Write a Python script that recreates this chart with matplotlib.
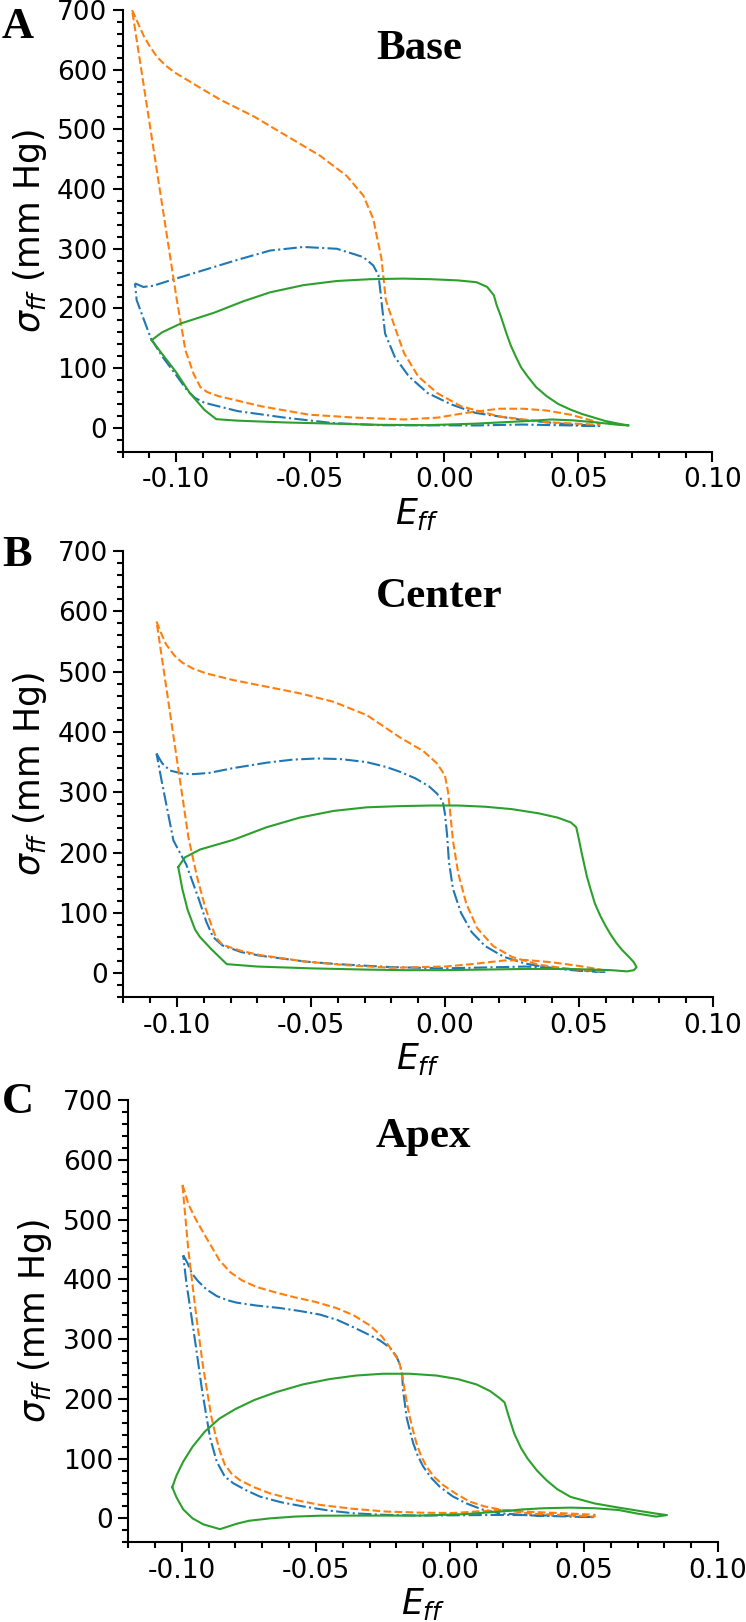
import matplotlib
matplotlib.use("Agg")
import matplotlib.pyplot as plt
from matplotlib.ticker import MultipleLocator

# ---- data, strain E_ff vs stress sigma_ff ----
# Base
base_dash_E = [-0.1165, -0.1150, -0.1135, -0.1120, -0.1100, -0.1073, -0.1040, -0.1005, -0.0960, -0.0905,
               -0.0837, -0.0712, -0.0588, -0.0464, -0.0364, -0.0302, -0.0265, -0.0250, -0.0235, -0.0218,
               -0.0185, -0.0150, -0.0097, -0.0026, 0.0063, 0.0205, 0.0382, 0.0560, 0.0580, 0.0578,
               0.0560, 0.0471, 0.0382, 0.0294, 0.0205, 0.0080, -0.0026, -0.0150, -0.0327, -0.0505,
               -0.0682, -0.0842, -0.0885, -0.0910, -0.0935, -0.0966, -0.0999, -0.1165]
base_dash_S = [700, 685, 670, 655, 640, 622, 607, 595, 583, 568,
               550, 522, 489, 456, 422, 389, 350, 317, 285, 214,
               169, 125, 86, 58, 36, 19, 9.4, 5.5, 5, 7,
               11, 22, 29, 32, 32, 25, 17, 14, 17, 22,
               36, 53, 60, 68, 90, 130, 217, 700]
base_dot_E = [-0.1154, -0.1123, -0.1086, -0.1023, -0.0899, -0.0775, -0.0650, -0.0526, -0.0401, -0.0302,
              -0.0265, -0.0246, -0.0240, -0.0235, -0.0221, -0.0185, -0.0132, -0.0061, 0.0027, 0.0116,
              0.0294, 0.0471, 0.0578, 0.0470, 0.0290, 0.0116, -0.0239, -0.0416, -0.0594, -0.0771,
              -0.0895, -0.0930, -0.0960, -0.1000, -0.1050, -0.1095, -0.1120, -0.1148, -0.1154]
base_dot_S = [242, 236, 238, 247, 264, 281, 297, 303, 300, 286,
              272, 256, 235, 214, 158, 119, 86, 58, 39, 25,
              13, 5.5, 3, 4, 5.5, 4, 4.4, 8, 17, 28,
              42, 50, 63, 88, 118, 150, 180, 214, 242]
base_solid_E = [-0.1092, -0.1053, -0.0982, -0.0858, -0.0750, -0.0650, -0.0526, -0.0401, -0.0277, -0.0153,
                -0.0050, 0.0050, 0.0120, 0.0160, 0.0185, 0.0195, 0.0210, 0.0232, 0.0248, 0.0267,
                0.0287, 0.0311, 0.0343, 0.0382, 0.0425, 0.0471, 0.0515, 0.0560, 0.0600, 0.0649,
                0.0688, 0.0650, 0.0560, 0.0480, 0.0400, 0.0294, 0.0116, -0.0061, -0.0239, -0.0416,
                -0.0594, -0.0771, -0.0851, -0.0895, -0.0949, -0.1002, -0.1055, -0.1092]
base_solid_S = [147, 160, 175, 193, 212, 227, 239, 246, 249, 250,
                249, 247, 244, 236, 222, 206, 188, 158, 138, 119,
                101, 86, 68, 53, 40, 30.5, 23, 17, 11.5, 7,
                4, 5, 9.4, 12.5, 14, 11, 7, 4.5, 5, 7,
                9, 12, 14.5, 30, 58, 94, 125, 147]

# Center
center_dash_E = [-0.1076, -0.1060, -0.1040, -0.1010, -0.0980, -0.0940, -0.0890, -0.0790, -0.0665, -0.0541,
                 -0.0416, -0.0292, -0.0168, -0.0080, -0.0030, 0.0000, 0.0012, 0.0020, 0.0030, 0.0050,
                 0.0080, 0.0120, 0.0180, 0.0250, 0.0350, 0.0450, 0.0550, 0.0600, 0.0580, 0.0500,
                 0.0400, 0.0300, 0.0220, 0.0100, 0.0000, -0.0200, -0.0360, -0.0516, -0.0690, -0.0760,
                 -0.0830, -0.0855, -0.0870, -0.0895, -0.0925, -0.0957, -0.1076]
center_dash_S = [583, 565, 545, 527, 515, 505, 497, 486, 475, 464,
                 450, 428, 391, 368, 348, 328, 300, 265, 220, 165,
                 115, 75, 45, 27, 14, 8, 4, 3, 6, 12,
                 18, 22, 21, 15, 11, 9, 13, 19, 30, 37,
                 47, 60, 78, 110, 160, 225, 583]
center_dot_E = [-0.1076, -0.1055, -0.1026, -0.0980, -0.0939, -0.0880, -0.0790, -0.0665, -0.0570, -0.0479,
                -0.0390, -0.0292, -0.0220, -0.0168, -0.0110, -0.0060, -0.0030, -0.0008, 0.0000, 0.0008,
                0.0015, 0.0030, 0.0060, 0.0100, 0.0150, 0.0220, 0.0300, 0.0400, 0.0500, 0.0600,
                0.0500, 0.0400, 0.0300, 0.0200, 0.0000, -0.0200, -0.0400, -0.0516, -0.0690, -0.0760,
                -0.0830, -0.0865, -0.0890, -0.0920, -0.0965, -0.1013, -0.1057, -0.1076]
center_dot_S = [364, 348, 336, 331, 330, 332, 340, 349, 354, 356,
                355, 350, 342, 334, 323, 310, 298, 285, 265, 230,
                185, 140, 100, 68, 45, 27, 16, 8, 4, 2,
                5, 9, 11, 10, 8, 10, 15, 19, 29, 35,
                46, 60, 85, 125, 180, 220, 319, 364]
center_solid_E = [-0.0995, -0.0970, -0.0914, -0.0790, -0.0665, -0.0541, -0.0416, -0.0292, -0.0168, -0.0050,
                  0.0050, 0.0150, 0.0250, 0.0350, 0.0420, 0.0470, 0.0490, 0.0500, 0.0510, 0.0530,
                  0.0545, 0.0560, 0.0580, 0.0600, 0.0620, 0.0640, 0.0660, 0.0680, 0.0695, 0.0705,
                  0.0715, 0.0705, 0.0680, 0.0620, 0.0550, 0.0450, 0.0300, 0.0150, 0.0000, -0.0150,
                  -0.0300, -0.0500, -0.0700, -0.0814, -0.0872, -0.0914, -0.0932, -0.0960, -0.0980, -0.0995]
center_solid_S = [176, 192, 205, 221, 242, 258, 269, 275, 277, 278,
                  278, 276, 272, 265, 258, 250, 242, 222, 200, 160,
                  137, 115, 95, 78, 63, 50, 39, 30, 23, 18,
                  10, 5, 3, 5, 6, 7, 7, 6, 5, 5,
                  6, 8, 11, 15, 40, 60, 72, 105, 140, 176]

# Apex
apex_dash_E = [-0.0998, -0.0975, -0.0950, -0.0920, -0.0890, -0.0860, -0.0820, -0.0775, -0.0720, -0.0650,
               -0.0580, -0.0500, -0.0424, -0.0360, -0.0299, -0.0255, -0.0225, -0.0200, -0.0187, -0.0178,
               -0.0169, -0.0160, -0.0150, -0.0138, -0.0125, -0.0108, -0.0088, -0.0060, -0.0026, 0.0020,
               0.0074, 0.0130, 0.0186, 0.0300, 0.0450, 0.0540, 0.0540, 0.0450, 0.0300, 0.0186,
               0.0012, -0.0100, -0.0237, -0.0360, -0.0485, -0.0580, -0.0672, -0.0730, -0.0784, -0.0815,
               -0.0840, -0.0858, -0.0875, -0.0890, -0.0921, -0.0946, -0.0976, -0.0998]
apex_dash_S = [558, 525, 502, 478, 455, 432, 412, 398, 387, 378,
               370, 362, 352, 340, 323, 305, 287, 270, 258, 240,
               215, 192, 170, 148, 126, 105, 87, 70, 56, 42,
               28, 20, 15, 8, 5, 3, 6, 8, 11, 14,
               9, 9.5, 11.4, 16, 22.6, 31, 42, 52, 64, 75,
               90, 112, 140, 170, 254, 337, 449, 558]
apex_dot_E = [-0.0995, -0.0980, -0.0963, -0.0940, -0.0908, -0.0870, -0.0830, -0.0796, -0.0720, -0.0635,
              -0.0560, -0.0485, -0.0420, -0.0361, -0.0310, -0.0262, -0.0225, -0.0199, -0.0185, -0.0178,
              -0.0175, -0.0168, -0.0162, -0.0150, -0.0137, -0.0120, -0.0100, -0.0070, -0.0038, 0.0010,
              0.0062, 0.0120, 0.0186, 0.0300, 0.0450, 0.0540, 0.0450, 0.0300, 0.0186, -0.0112,
              -0.0250, -0.0361, -0.0450, -0.0547, -0.0630, -0.0709, -0.0760, -0.0809, -0.0840, -0.0870,
              -0.0895, -0.0925, -0.0946, -0.0965, -0.0983, -0.0995]
apex_dot_S = [440, 428, 410, 397, 383, 372, 365, 361, 356, 352,
              347, 341, 332, 320, 309, 298, 286, 271, 255, 240,
              215, 192, 170, 148, 126, 105, 87, 68, 53, 37,
              25, 15, 8.6, 5, 3, 2, 4, 5.5, 5.8, 4.7,
              6, 8.6, 13, 20, 27, 36.5, 47, 59, 70, 95,
              135, 215, 282, 340, 393, 440]
apex_solid_E = [-0.1036, -0.1020, -0.0995, -0.0960, -0.0915, -0.0860, -0.0800, -0.0730, -0.0650, -0.0550,
                -0.0450, -0.0350, -0.0250, -0.0150, -0.0050, 0.0030, 0.0100, 0.0150, 0.0186, 0.0204,
                0.0220, 0.0240, 0.0265, 0.0290, 0.0325, 0.0360, 0.0400, 0.0450, 0.0540, 0.0630,
                0.0700, 0.0770, 0.0810, 0.0770, 0.0700, 0.0630, 0.0540, 0.0450, 0.0350, 0.0270,
                0.0186, 0.0050, -0.0112, -0.0300, -0.0485, -0.0580, -0.0672, -0.0750, -0.0796, -0.0830,
                -0.0858, -0.0920, -0.0960, -0.0995, -0.1020, -0.1036]
apex_solid_S = [52, 72, 95, 120, 145, 167, 183, 198, 211, 224,
                233, 239, 242, 242, 239, 233, 224, 213, 201, 194,
                170, 142, 118, 100, 80, 64, 49, 36, 25, 18,
                13, 8, 5.5, 3, 8, 14, 17, 18, 17, 15,
                11.4, 7, 4.7, 4.7, 4.5, 3, 0, -4, -9, -14,
                -18, -10, 0, 15, 35, 52]

panel_titles = ["Base", "Center", "Apex"]
panel_letters = ["A", "B", "C"]
x_ticks = [-0.10, -0.05, 0.00, 0.05, 0.10]
y_ticks = [0, 100, 200, 300, 400, 500, 600, 700]

panels = [
    (base_dot_E, base_dot_S, base_dash_E, base_dash_S, base_solid_E, base_solid_S),
    (center_dot_E, center_dot_S, center_dash_E, center_dash_S, center_solid_E, center_solid_S),
    (apex_dot_E, apex_dot_S, apex_dash_E, apex_dash_S, apex_solid_E, apex_solid_S),
]

W, H = 746, 1622
fig = plt.figure(figsize=(W / 100, H / 100), dpi=100)

# axes boxes in pixels: left, top, right, bottom
boxes = [(122.7, 10.0, 712.3, 451.7),
         (123.3, 551.0, 712.9, 997.3),
         (128.3, 1100.0, 717.9, 1542.3)]
title_base = [59, 607, 1147]
letter_base = [38.5, 566, 1113]

for i, (dE, dS, oE, oS, gE, gS) in enumerate(panels):
    l, t, r, b = boxes[i]
    ax = fig.add_axes([l / W, 1 - b / H, (r - l) / W, (b - t) / H])
    ax.plot(dE, dS, color="tab:blue", ls="-.", lw=1.5)
    ax.plot(oE, oS, color="tab:orange", ls="--", lw=1.5)
    ax.plot(gE, gS, color="tab:green", ls="-", lw=1.5)
    ax.set_xlim(-0.12, 0.10)
    ax.set_ylim(-40, 700)
    ax.set_xticks(x_ticks)
    ax.set_xticklabels(["%.2f" % v for v in x_ticks])
    ax.set_yticks(y_ticks)
    ax.xaxis.set_minor_locator(MultipleLocator(0.01))
    ax.yaxis.set_minor_locator(MultipleLocator(20))
    for s in ["top", "right"]:
        ax.spines[s].set_visible(False)
    for s in ["left", "bottom"]:
        ax.spines[s].set_linewidth(1.5)
    ax.tick_params(which="major", length=7, width=1.5, labelsize=19, pad=4)
    ax.tick_params(which="minor", length=4, width=1.5)
    ax.set_xlabel(r"$E_{ff}$", fontsize=25, labelpad=2)
    ax.set_ylabel(r"$\sigma_{ff}$ (mm Hg)", fontsize=25, labelpad=6)

    fig.text(376 / W, 1 - title_base[i] / H, panel_titles[i], ha="left", va="baseline",
             fontsize=31, fontweight="bold", family="Liberation Serif")
    fig.text(2 / W, 1 - letter_base[i] / H, panel_letters[i], ha="left", va="baseline",
             fontsize=32, fontweight="bold", family="Liberation Serif")

fig.savefig("out.png", dpi=100)
